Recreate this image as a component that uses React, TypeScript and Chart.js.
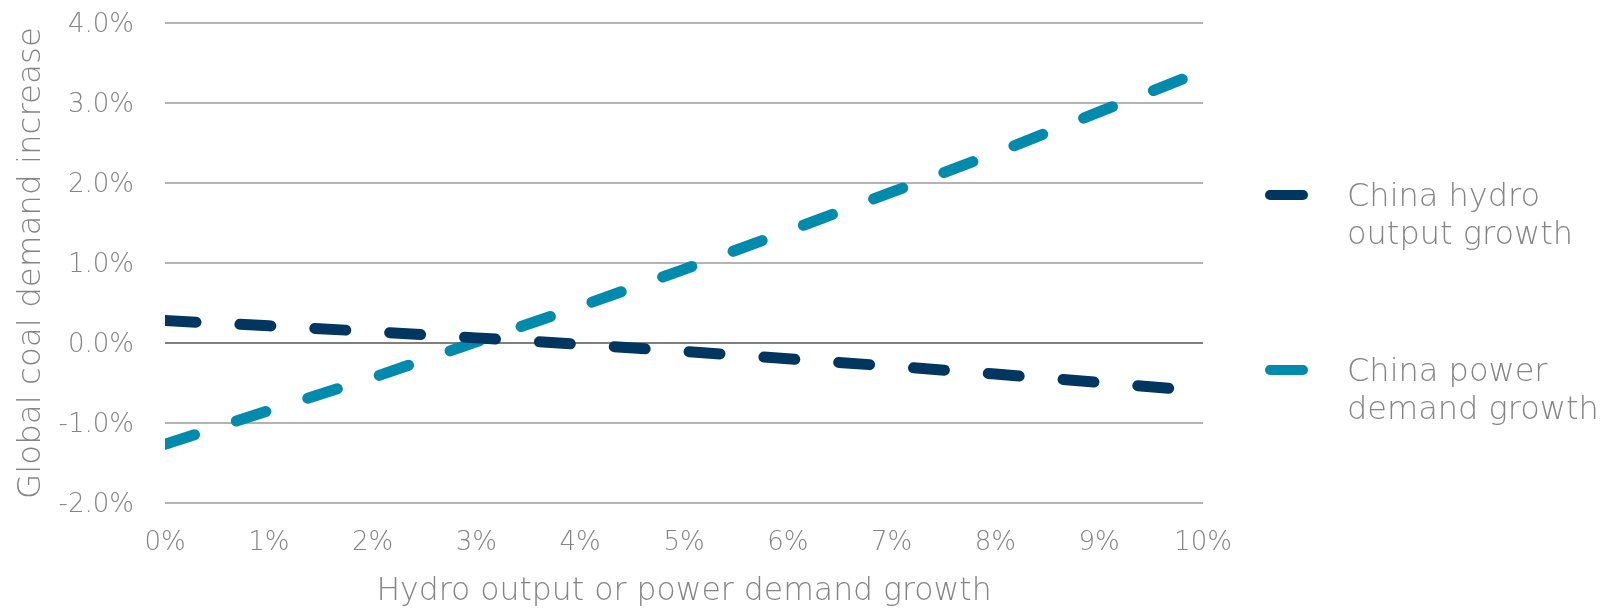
import React, { useEffect, useRef } from "react";
import { Chart, registerables } from "chart.js";

Chart.register(...registerables);

// ---- data ----
const growthSteps = [0, 1, 2, 3, 4, 5, 6, 7, 8, 9, 10]; // % hydro output or power demand growth
const hydroOutputGrowth = [0.28, 0.215, 0.142, 0.064, -0.018, -0.105, -0.197, -0.29, -0.388, -0.493, -0.603];
const powerDemandGrowth = [-1.265, -0.845, -0.433, 0.015, 0.458, 0.92, 1.399, 1.885, 2.373, 2.888, 3.4];
const seriesNames = ["China hydro\noutput growth", "China power\ndemand growth"];
const seriesColors = ["#003660", "#008aab"];
const yTickValues = [-2, -1, 0, 1, 2, 3, 4];
const xTickValues = [0, 1, 2, 3, 4, 5, 6, 7, 8, 9, 10];
const yAxisTitle = "Global coal demand increase";
const xAxisTitle = "Hydro output or power demand growth";

// ---- styles ----
const FONT = "'DejaVu Sans', sans-serif";
const TEXT_COLOR = "#858585";
const GRID_COLOR = "#b4b4b4";
const ZERO_COLOR = "#808080";

const legendPlugin = {
  id: "sideLegend",
  afterDraw(chart: any) {
    const ctx = chart.ctx as CanvasRenderingContext2D;
    const markerYs = [195, 370];
    ctx.save();
    chart.data.datasets.forEach((ds: any, i: number) => {
      const y = markerYs[i];
      ctx.strokeStyle = ds.borderColor;
      ctx.lineWidth = 10;
      ctx.lineCap = "round";
      ctx.beginPath();
      ctx.moveTo(1270, y);
      ctx.lineTo(1303, y);
      ctx.stroke();
      ctx.fillStyle = TEXT_COLOR;
      ctx.font = `200 32px ${FONT}`;
      ctx.textAlign = "left";
      ctx.textBaseline = "alphabetic";
      String(ds.label)
        .split("\n")
        .forEach((line, j) => ctx.fillText(line, 1347, y + 11 + j * 37.5));
    });
    ctx.restore();
  },
};

export default function App() {
  const canvasRef = useRef<HTMLCanvasElement | null>(null);

  useEffect(() => {
    document.body.style.margin = "0";
    const canvas = canvasRef.current;
    if (!canvas) return;
    const chart = new Chart(canvas, {
      type: "line",
      data: {
        datasets: [
          {
            label: seriesNames[0],
            data: growthSteps.map((x, i) => ({ x, y: hydroOutputGrowth[i] })),
            borderColor: seriesColors[0],
            backgroundColor: seriesColors[0],
            borderWidth: 11,
            borderDash: [31, 44],
            borderCapStyle: "round",
            pointRadius: 0,
            tension: 0,
            fill: false,
          },
          {
            label: seriesNames[1],
            data: growthSteps.map((x, i) => ({ x, y: powerDemandGrowth[i] })),
            borderColor: seriesColors[1],
            backgroundColor: seriesColors[1],
            borderWidth: 11,
            borderDash: [31, 44],
            borderCapStyle: "round",
            pointRadius: 0,
            tension: 0,
            fill: false,
          },
        ],
      },
      options: {
        animation: false,
        responsive: false,
        devicePixelRatio: 1,
        layout: { padding: { left: 0, top: 23, right: 402, bottom: 0 } },
        plugins: {
          legend: { display: false },
          tooltip: { enabled: false },
        },
        scales: {
          x: {
            type: "linear",
            min: 0,
            max: 10,
            afterBuildTicks: (scale: any) => {
              scale.ticks = xTickValues.map((v) => ({ value: v }));
            },
            afterFit: (scale: any) => {
              scale.height = 106;
              scale.paddingLeft = 0;
              scale.paddingRight = 0;
            },
            grid: { display: false, drawTicks: false },
            border: { display: false },
            ticks: {
              padding: 25,
              color: TEXT_COLOR,
              font: { family: FONT, size: 26, weight: 200 as any },
              maxRotation: 0,
              autoSkip: false,
              callback: (v: any) => `${v}%`,
            },
            title: {
              display: true,
              text: xAxisTitle,
              color: TEXT_COLOR,
              font: { family: FONT, size: 31.5, weight: 200 as any, lineHeight: 1 },
              padding: { top: 0, bottom: 1 },
            },
          },
          y: {
            type: "linear",
            min: -2,
            max: 4,
            afterBuildTicks: (scale: any) => {
              scale.ticks = yTickValues.map((v) => ({ value: v }));
            },
            afterFit: (scale: any) => {
              scale.width = 165;
              scale.paddingTop = 0;
              scale.paddingBottom = 0;
            },
            grid: {
              drawTicks: false,
              lineWidth: 2,
              color: (c: any) => (c.tick && c.tick.value === 0 ? ZERO_COLOR : GRID_COLOR),
            },
            border: { display: false },
            ticks: {
              padding: 31,
              labelOffset: 2,
              color: TEXT_COLOR,
              font: { family: FONT, size: 26, weight: 200 as any },
              autoSkip: false,
              callback: (v: any) => `${Number(v).toFixed(1)}%`,
            },
            title: {
              display: true,
              text: yAxisTitle,
              color: TEXT_COLOR,
              font: { family: FONT, size: 32.5, weight: 200 as any },
              padding: { top: 12, bottom: 0 },
            },
          },
        },
      },
      plugins: [legendPlugin],
    });
    return () => chart.destroy();
  }, []);

  return (
    <div style={{ position: "absolute", left: 0, top: 0, width: 1605, height: 609, background: "#fff" }}>
      <canvas ref={canvasRef} width={1605} height={609} style={{ display: "block" }} />
    </div>
  );
}
